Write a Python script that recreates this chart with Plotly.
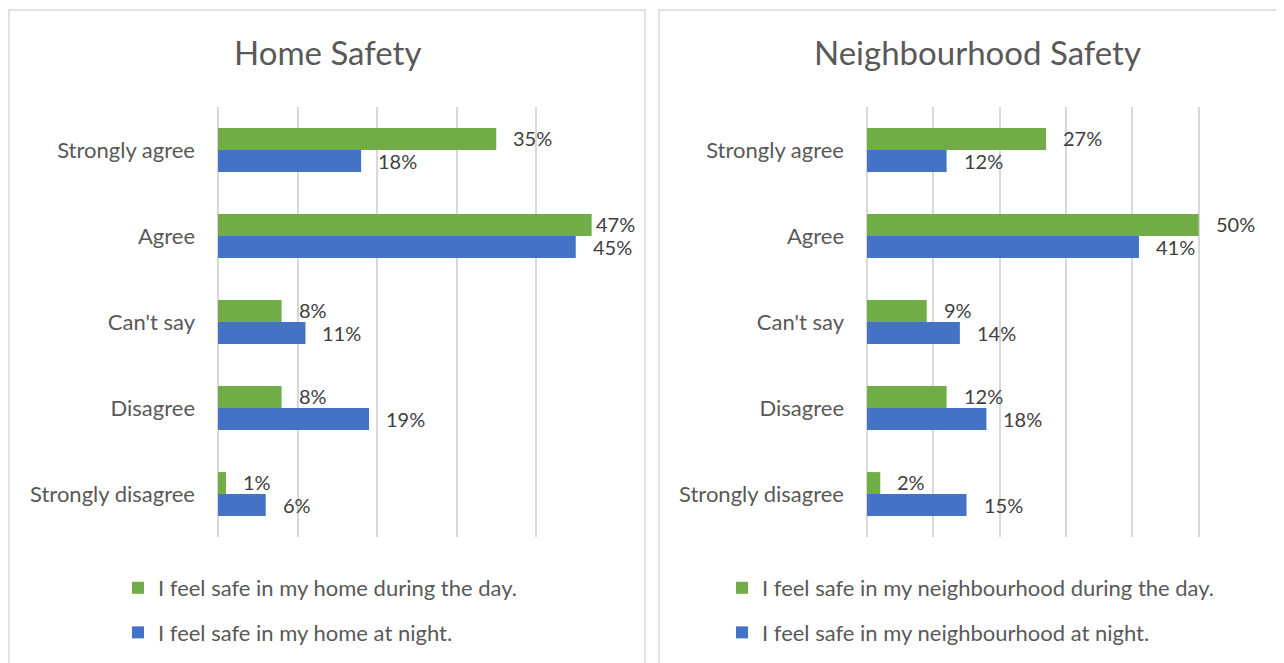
import plotly.graph_objects as go

# the page body has an 8px margin, so the figure is drawn from (8, 8)
OFF = 8
W, H = 1284 - OFF, 663 - OFF

CATEGORIES = ["Strongly agree", "Agree", "Can't say", "Disagree", "Strongly disagree"]

HOME_DAY = [35, 47, 8, 8, 1]
HOME_NIGHT = [18, 45, 11, 19, 6]
NEIGH_DAY = [27, 50, 9, 12, 2]
NEIGH_NIGHT = [12, 41, 14, 18, 15]

TITLES = ["Home Safety", "Neighbourhood Safety"]
LEGEND_NAMES = [
    ["I feel safe in my home during the day.", "I feel safe in my home at night."],
    ["I feel safe in my neighbourhood during the day.", "I feel safe in my neighbourhood at night."],
]
X_MAX = [50, 60]

GREEN = "#70AD47"
BLUE = "#4472C4"
GRID = "#D9D9D9"
FONT = "Lato, 'Open Sans', sans-serif"


def px(x):
    return (x - OFF) / W


def py(y):
    return 1 - (y - OFF) / H


# layout in window pixels
X_DOMAINS = [(218, 615.5), (867, 1265)]
Y_TOP, Y_BOT = 107, 537
TITLE_X = [328, 977.5]
# keep labels from running past the panel edge (data units), like Excel does
LABEL_CAP = [45.4, None]
LEGEND_X = [118, 722]

fig = go.Figure()

panels = [(HOME_DAY, HOME_NIGHT), (NEIGH_DAY, NEIGH_NIGHT)]
annotations = []
for i, (day, night) in enumerate(panels):
    xa = "x" if i == 0 else "x2"
    ya = "y" if i == 0 else "y2"
    lg = "legend" if i == 0 else "legend2"
    for j, (vals, color) in enumerate([(day, GREEN), (night, BLUE)]):
        fig.add_trace(go.Bar(
            x=vals, y=CATEGORIES, orientation="h", name=LEGEND_NAMES[i][j],
            marker=dict(color=color, line=dict(width=0)),
            xaxis=xa, yaxis=ya, legend=lg, legendgroup=f"g{i}{j}",
            hoverinfo="skip",
        ))
        for v, c in zip(vals, CATEGORIES):
            xv = v if LABEL_CAP[i] is None else min(v, LABEL_CAP[i])
            annotations.append(dict(
                x=xv, y=c, xref=xa, yref=ya, text=f"{v}%", showarrow=False,
                xanchor="left", yanchor="middle", xshift=15, yshift=12 if j == 0 else -11,
                font=dict(family=FONT, size=20, color="#404040"),
            ))

    annotations.append(dict(
        x=px(TITLE_X[i]), y=py(52), xref="paper", yref="paper", text=TITLES[i],
        showarrow=False, xanchor="center", yanchor="middle",
        font=dict(family=FONT, size=33, color="#595959"),
    ))

axis_common = dict(
    showgrid=True, gridcolor=GRID, gridwidth=1.5, zeroline=True, zerolinecolor=GRID,
    zerolinewidth=1.5, showticklabels=False, showline=False, dtick=10, fixedrange=True,
)
yaxis_common = dict(
    autorange="reversed", showgrid=False, showline=False, ticks="",
    tickfont=dict(family=FONT, size=22, color="#595959"),
    ticklabelstandoff=22, automargin=False, domain=[py(Y_BOT), py(Y_TOP)],
)

legend_common = dict(
    orientation="v", xanchor="left", yanchor="top", bgcolor="rgba(0,0,0,0)",
    font=dict(family=FONT, size=22, color="#595959"), tracegroupgap=13,
    traceorder="grouped",
)

fig.update_layout(
    width=W, height=H,
    margin=dict(l=0, r=0, t=0, b=0),
    paper_bgcolor="white", plot_bgcolor="white",
    barmode="group", bargap=0.49, bargroupgap=0,
    xaxis=dict(axis_common, range=[0, X_MAX[0]], domain=[px(X_DOMAINS[0][0]), px(X_DOMAINS[0][1])], anchor="y"),
    xaxis2=dict(axis_common, range=[0, X_MAX[1]], domain=[px(X_DOMAINS[1][0]), px(X_DOMAINS[1][1])], anchor="y2"),
    yaxis=dict(yaxis_common, anchor="x"),
    yaxis2=dict(yaxis_common, anchor="x2"),
    legend=dict(legend_common, x=px(LEGEND_X[0]), y=py(567)),
    legend2=dict(legend_common, x=px(LEGEND_X[1]), y=py(567)),
    annotations=annotations,
    shapes=[
        dict(type="rect", xref="paper", yref="paper", x0=px(9), x1=px(645), y0=py(670), y1=py(10),
             line=dict(color=GRID, width=1.5)),
        dict(type="rect", xref="paper", yref="paper", x0=px(659), x1=px(1300), y0=py(670), y1=py(10),
             line=dict(color=GRID, width=1.5)),
    ],
    showlegend=True,
)

fig.write_html("out.html")
